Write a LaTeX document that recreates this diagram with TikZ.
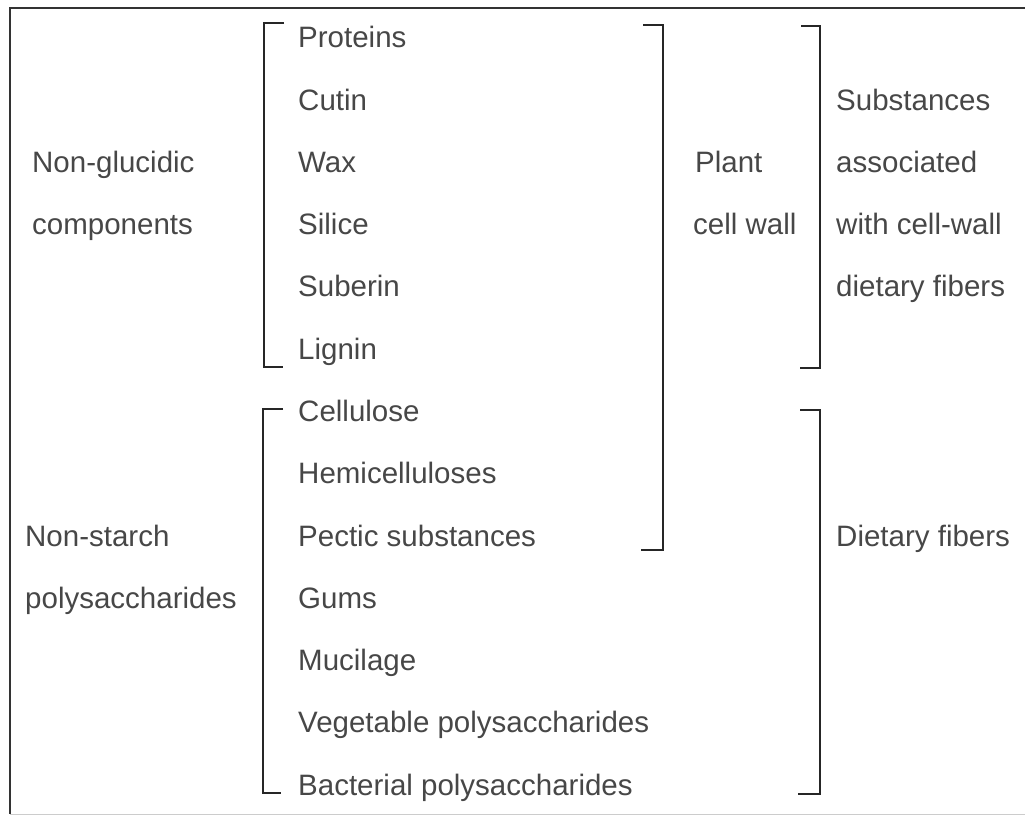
\documentclass[tikz,border=0pt]{standalone}
\usepackage{fontspec}
\setmainfont{Liberation Sans}
\usetikzlibrary{positioning}

\begin{document}
\begin{tikzpicture}[x=1pt,y=-1pt,
  item/.style={anchor=base west,inner sep=0pt,font=\fontsize{29.5}{30}\selectfont,text=black!72},
  brace/.style={draw=black!85,line width=1.8pt},
  frame/.style={draw=black!80,line width=1.4pt}]
\useasboundingbox (0,0) rectangle (1025,818);
% outer frame
\draw[frame] (1025,8) -- (10,8) -- (10,814);
\draw[black!20,line width=1pt] (10,814) -- (1025,814);
% the components, one per row
\foreach \nm/\txt [count=\i from 0] in {prot/Proteins, cutin/Cutin, wax/Wax,
    silice/Silice, suberin/Suberin, lignin/Lignin, cell/Cellulose,
    hemi/Hemicelluloses, pectic/Pectic substances, gums/Gums,
    mucil/Mucilage, veget/Vegetable polysaccharides,
    bacter/Bacterial polysaccharides}
  \node[item] (\nm) at (298,48+62.25*\i) {\txt};
% groups on the left
\node[item] (nonglu) at (32,172.5) {Non-glucidic};
\node[item] (compon) at (32,234.75) {components};
\node[item] (nonsta) at (25,546) {Non-starch};
\node[item] (polysa) at (25,608.25) {polysaccharides};
% groups on the right
\node[item] (plant) at (695,172.5) {Plant};
\node[item] (cwall) at (693,234.75) {cell wall};
\node[item] (subst) at (836,110.25) {Substances};
\node[item] (assoc) at (836,172.5) {associated};
\node[item] (withcw) at (836,234.75) {with cell-wall};
\node[item] (dietf) at (836,297) {dietary fibers};
\node[item] (dietary) at (836,546) {Dietary fibers};
% brackets
\draw[brace] (284,23) -- (264,23) -- (264,367) -- (283,367);
\draw[brace] (283,409) -- (263,409) -- (263,793) -- (281,793);
\draw[brace] (643,25) -- (663,25) -- (663,550) -- (641,550);
\draw[brace] (801,26) -- (820,26) -- (820,368) -- (800,368);
\draw[brace] (800,410) -- (820,410) -- (820,794) -- (798,794);
\end{tikzpicture}
\end{document}
